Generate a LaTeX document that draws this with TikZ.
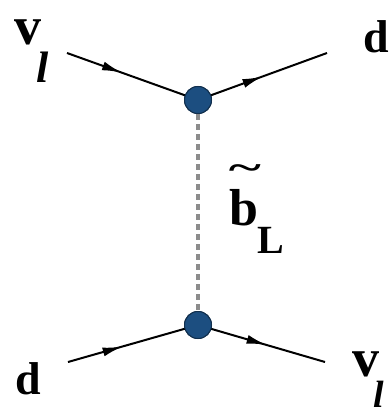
\documentclass[tikz,border=0pt]{standalone}
\usepackage{fontspec}
\setmainfont{Liberation Serif}
\usetikzlibrary{decorations.markings,arrows.meta}
\definecolor{vtx}{RGB}{28,78,128}
\definecolor{prop}{RGB}{140,140,140}
\tikzset{
  fermion/.style={line width=2pt, postaction={decorate}, decoration={markings, mark=at position #1 with {\arrow{Latex[length=20pt,width=9pt]}}}},
  vertexdot/.style={circle, fill=vtx, draw=vtx!60!black, line width=1pt, minimum size=27pt, inner sep=0pt},
  scalar/.style={draw=prop, line width=4.5pt, dash pattern=on 6pt off 4pt},
  lab/.style={font=\fontsize{46}{46}\selectfont\bfseries, inner sep=0pt},
  nulab/.style={font=\fontsize{54}{54}\selectfont\bfseries, inner sep=0pt},
  sub/.style={font=\fontsize{44}{44}\selectfont\bfseries\itshape, inner sep=0pt},
  subL/.style={font=\fontsize{40}{40}\selectfont\bfseries, inner sep=0pt}
}
\begin{document}
\begin{tikzpicture}[x=1pt,y=-1pt]
\useasboundingbox (0,0) rectangle (391,412);
\coordinate (a) at (67,53);
\coordinate (b) at (327,53);
\coordinate (c) at (68,362);
\coordinate (d) at (325,362);
\node[vertexdot] (v1) at (198,100) {};
\node[vertexdot] (v2) at (198,325) {};
\draw[scalar] (v1) -- (v2);
\draw[fermion=0.42] (a) -- (v1.center);
\draw[fermion=0.5] (v1.center) -- (b);
\draw[fermion=0.42] (c) -- (v2.center);
\draw[fermion=0.54] (v2.center) -- (d);
\node[vertexdot] at (v1) {};
\node[vertexdot] at (v2) {};
% labels
\node[nulab] (n1) at (28,32) {v};
\node[sub] (l1) at (43,67) {l};
\node[lab] (d1) at (376,37) {d};
\node[lab, font=\fontsize{44}{44}\selectfont\bfseries, xscale=1.4, yscale=0.8] (tl) at (245,172) {\textasciitilde};
\node[lab, font=\fontsize{52}{52}\selectfont\bfseries] (bt) at (244,208) {b};
\node[subL] (bl) at (271,240) {L};
\node[lab] (d2) at (28,379) {d};
\node[nulab] (n2) at (366,364) {v};
\node[sub, font=\fontsize{38}{38}\selectfont\bfseries\itshape] (l2) at (379,394) {l};
\end{tikzpicture}
\end{document}
